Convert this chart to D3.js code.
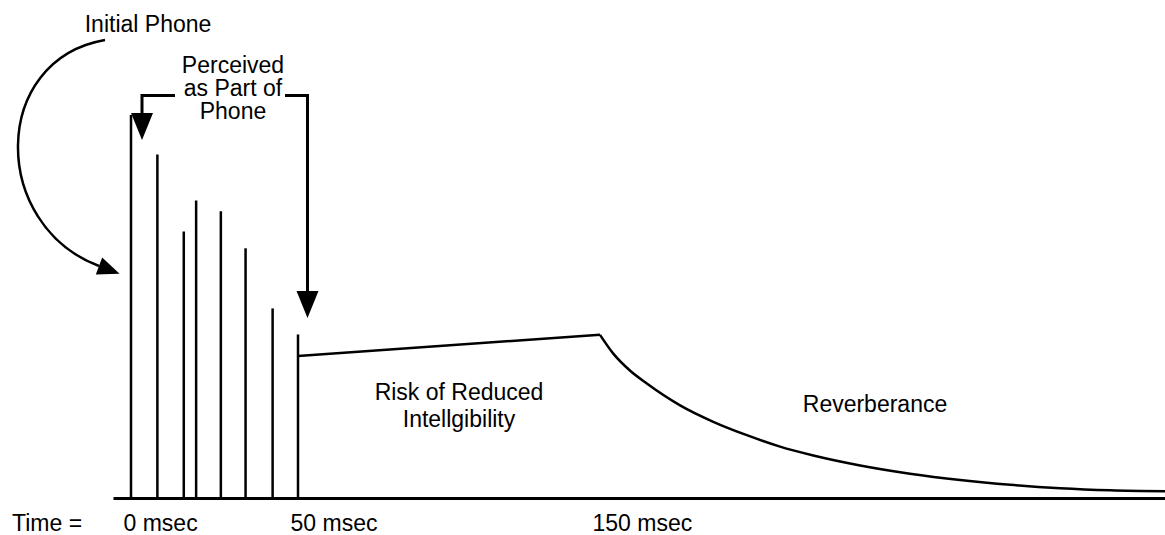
<!DOCTYPE html>
<html>
<head>
<meta charset="utf-8">
<script src="https://cdn.jsdelivr.net/npm/d3@7"></script>
<style>
body{margin:0;background:#fff;}
text{font-family:"Liberation Sans",Arial,Helvetica,sans-serif;font-size:23px;fill:#000;}
</style>
</head>
<body>
<svg id="chart" width="1165" height="535"></svg>
<script>
// early reflections: arrival time (msec) and relative level
var spikeTimes  = [0, 7.9, 15.8, 19.5, 26.9, 34.3, 42.4, 50];
var spikeLevels = [100, 89.7, 69.6, 77.7, 74.9, 65.2, 49.5, 42.7];

// late energy between 50 and 150 msec
var plateauTimes  = [50, 150];
var plateauLevels = [37.1, 42.6];

// reverberant tail
var decayTimes  = [150, 154.4, 159.9, 165.5, 176.5, 187.5, 198.6, 209.6, 220.6, 236.1, 252.6, 269.2, 285.8, 302.3, 318.9, 337];
var decayLevels = [42.6, 37.7, 33.3, 29.9, 24.2, 19.9, 16.4, 13.4, 11.1, 8.5, 6.35, 4.7, 3.45, 2.55, 2.0, 1.75];

var tickTimes = [0, 50, 150];

var svg = d3.select("#chart");

// schematic time axis, not to scale
var x = d3.scaleLinear()
	.domain([-5.4, 0, 50, 150, 337])
	.range([113, 131, 298, 600, 1165]);

var y = d3.scaleLinear()
	.domain([0, 100])
	.range([498, 115]);

var defs = svg.append("defs");
function arrowHead(id, len, wid){
	defs.append("marker")
		.attr("id", id)
		.attr("markerUnits", "userSpaceOnUse")
		.attr("markerWidth", len)
		.attr("markerHeight", wid)
		.attr("viewBox", "0 " + (-wid/2) + " " + len + " " + wid)
		.attr("refX", 0)
		.attr("refY", 0)
		.attr("orient", "auto")
		.style("overflow", "visible")
		.append("path")
		.attr("d", "M0," + (-wid/2) + "L" + len + ",0L0," + (wid/2) + "Z")
		.attr("fill", "#000");
}
arrowHead("bigArrow", 27, 22);
arrowHead("arcArrow", 22, 18);

// spikes
var spikes = spikeTimes.map(function(t,i){ return {t:t, v:spikeLevels[i]}; });
svg.append("g").selectAll("line")
	.data(spikes)
	.enter()
	.append("line")
	.attr("x1", function(d){ return x(d.t); })
	.attr("x2", function(d){ return x(d.t); })
	.attr("y1", y(0))
	.attr("y2", function(d){ return y(d.v); })
	.attr("stroke", "#000")
	.attr("stroke-width", 2.5);

// plateau
var plateau = plateauTimes.map(function(t,i){ return [t, plateauLevels[i]]; });
svg.append("path")
	.datum(plateau)
	.attr("d", d3.line().x(function(d){ return x(d[0]); }).y(function(d){ return y(d[1]); }))
	.attr("fill", "none")
	.attr("stroke", "#000")
	.attr("stroke-width", 2.5);

// decay
var decay = decayTimes.map(function(t,i){ return [t, decayLevels[i]]; });
svg.append("path")
	.datum(decay)
	.attr("d", d3.line().curve(d3.curveMonotoneX).x(function(d){ return x(d[0]); }).y(function(d){ return y(d[1]); }))
	.attr("fill", "none")
	.attr("stroke", "#000")
	.attr("stroke-width", 2.5)
	.attr("stroke-linejoin", "round");

// baseline + time labels
var xAxis = d3.axisBottom(x)
	.tickValues(tickTimes)
	.tickSize(0)
	.tickSizeOuter(0)
	.tickPadding(17)
	.tickFormat(function(d){ return d + " msec"; });

var axisG = svg.append("g")
	.attr("transform", "translate(0," + y(0) + ")")
	.call(xAxis);
axisG.select(".domain")
	.attr("stroke", "#000")
	.attr("stroke-width", 3);
axisG.selectAll(".tick text")
	.attr("text-anchor", "start")
	.attr("dx", -8);

svg.append("text")
	.attr("x", 12)
	.attr("y", 531)
	.text("Time =");

// annotations
svg.append("path")
	.attr("d", "M105,40C-10,60 -10,225 99,266")
	.attr("fill", "none")
	.attr("stroke", "#000")
	.attr("stroke-width", 2.5)
	.attr("marker-end", "url(#arcArrow)");

svg.append("text")
	.attr("x", 148)
	.attr("y", 32)
	.attr("text-anchor", "middle")
	.text("Initial Phone");

svg.append("path")
	.attr("d", "M175,95.5H142V113")
	.attr("fill", "none")
	.attr("stroke", "#000")
	.attr("stroke-width", 3)
	.attr("marker-end", "url(#bigArrow)");

svg.append("path")
	.attr("d", "M285,95.5H307.5V291")
	.attr("fill", "none")
	.attr("stroke", "#000")
	.attr("stroke-width", 3)
	.attr("marker-end", "url(#bigArrow)");

var perceived = ["Perceived", "as Part of", "Phone"];
svg.append("text")
	.attr("text-anchor", "middle")
	.selectAll("tspan")
	.data(perceived)
	.enter()
	.append("tspan")
	.attr("x", 233)
	.attr("y", function(d,i){ return 72.7 + i*23.3; })
	.text(function(d){ return d; });

var risk = ["Risk of Reduced", "Intellgibility"];
svg.append("text")
	.attr("text-anchor", "middle")
	.selectAll("tspan")
	.data(risk)
	.enter()
	.append("tspan")
	.attr("x", 459)
	.attr("y", function(d,i){ return 400 + i*27; })
	.text(function(d){ return d; });

svg.append("text")
	.attr("x", 875)
	.attr("y", 412)
	.attr("text-anchor", "middle")
	.text("Reverberance");
</script>
</body>
</html>
